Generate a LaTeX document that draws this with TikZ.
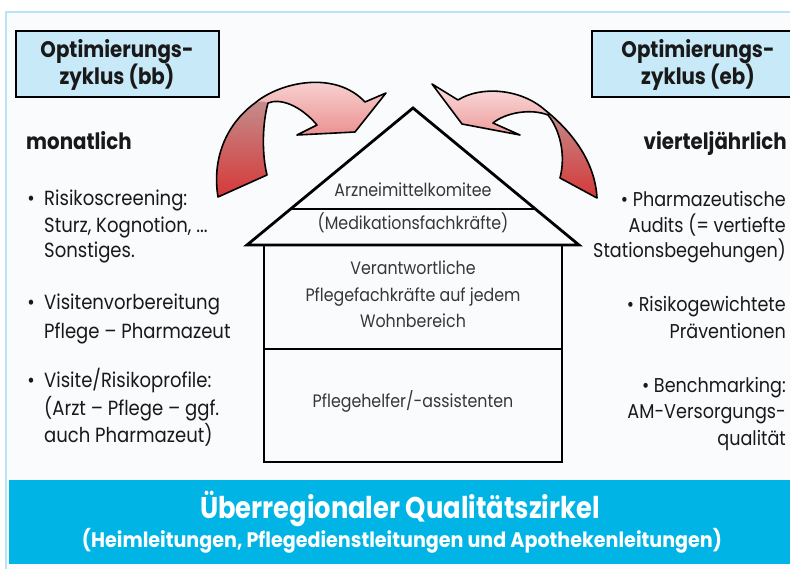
\documentclass[tikz,border=0pt]{standalone}
\usepackage{fontspec}
\setmainfont{Poppins}[FakeStretch=0.88]
\usepackage{graphicx}
\definecolor{framec}{RGB}{185,228,245}
\definecolor{bgc}{RGB}{250,251,252}
\definecolor{boxc}{RGB}{199,233,248}
\definecolor{bandc}{RGB}{0,180,230}
\definecolor{txt}{RGB}{25,25,25}
\definecolor{htxt}{RGB}{55,55,55}
\definecolor{pinkL}{RGB}{250,222,222}
\definecolor{redD}{RGB}{222,72,72}
\definecolor{roseT}{RGB}{196,140,140}
\definecolor{redT}{RGB}{214,56,56}
\tikzset{
  bul/.style={font=\fontsize{20.5}{20.5}\selectfont, text=txt, inner sep=0pt, anchor=base west},
  bulr/.style={font=\fontsize{20}{20}\selectfont, text=txt, inner sep=0pt, anchor=base east},
  htext/.style={font=\fontsize{18}{18}\selectfont, text=htxt, inner sep=0pt, anchor=base},
  head/.style={font=\bfseries\fontsize{22.5}{22.5}\selectfont, text=txt, inner sep=0pt, anchor=base},
  boxst/.style={draw=black, line width=2pt, fill=boxc},
  housel/.style={draw=black, line width=2.8pt},
  arrlight/.style={top color=pinkL, bottom color=redD},
  arrdark/.style={top color=roseT, bottom color=redT},
  arredge/.style={draw=black, line width=1.6pt, line join=round},
  bandt/.style={text=white, inner sep=0pt, anchor=base}
}
\begin{document}
\begin{tikzpicture}[x=1pt,y=-1pt]
\useasboundingbox (0,0) rectangle (790,569);
\begin{scope}
\clip (0,0) rectangle (790,569);
% frame and band
\draw[framec, line width=1.5pt, fill=bgc] (6,12) rectangle (830,620);
\fill[bandc] (9,480) rectangle (830,564);
% heading boxes
\draw[boxst] (16,31) rectangle (219,97);
\draw[boxst] (592,31) rectangle (830,97);
\end{scope}
\node[head] (h1) at (117,58) {Optimierungs-};
\node[head] (h2) at (117,85) {zyklus (bb)};
\node[head] (h3) at (698,58) {Optimierungs-};
\node[head] (h4) at (698,85) {zyklus (eb)};
\node[head, anchor=base west] (mon) at (26,150) {monatlich};
\node[head, anchor=base east] (vj) at (787,150) {vierteljährlich};
% house
\draw[housel, line join=miter] (247,245) -- (413,108) -- (579,245) -- cycle;
\draw[housel] (291,209) -- (535,209);
\draw[housel] (264,245) rectangle (562,462);
\draw[housel] (264,349) -- (562,349);
\node[htext] (am) at (413,197) {Arzneimittelkomitee};
\node[htext] (mf) at (413,230) {(Medikationsfachkräfte)};
\node[htext] (v1) at (413,275) {Verantwortliche};
\node[htext] (v2) at (413,302) {Pflegefachkräfte auf jedem};
\node[htext] (v3) at (413,327) {Wohnbereich};
\node[htext] (ph) at (413,407) {Pflegehelfer/-assistenten};
% left arrow
\def\leftarr{(255,103) .. controls (280,82) and (335,70) .. (365,102) -- (386,93) -- (355,132) -- (297,135) -- (317,125)
  .. controls (300,105) and (280,98) .. (268,103) .. controls (262,125) and (262,155) .. (267,175)
  -- (218,197) .. controls (212,160) and (225,125) .. (255,103) -- cycle}
\path[arrlight] \leftarr;
\path[arrdark] (255,103) .. controls (262,101) .. (268,103) .. controls (262,125) and (262,155) .. (267,175)
  -- (218,197) .. controls (212,160) and (225,125) .. (255,103) -- cycle;
\path[arredge] \leftarr;
% right arrow
\def\rightarr{(545,110) .. controls (520,88) and (480,86) .. (458,100) -- (432,84) -- (462,124) -- (520,135) -- (493,123)
  .. controls (505,113) and (530,108) .. (548,115) .. controls (560,130) and (566,155) .. (560,178)
  -- (597,198) .. controls (595,160) and (570,130) .. (545,110) -- cycle}
\path[arrlight] \rightarr;
\path[arrdark] (545,110) -- (548,115) .. controls (560,130) and (566,155) .. (560,178)
  -- (597,198) .. controls (595,160) and (570,130) .. (545,110) -- cycle;
\path[arredge] \rightarr;
% left column
\foreach \y/\t [count=\i] in {206/{Risikoscreening:}, 233/{Sturz, Kognotion, ...}, 258/{Sonstiges.},
  310/{Visitenvorbereitung}, 338/{Pflege – Pharmazeut}, 387/{Visite/Risikoprofile:},
  415/{(Arzt – Pflege – ggf.}, 442/{auch Pharmazeut)}}
  \node[bul] (L\i) at (44,\y) {\t};
\foreach \y [count=\i] in {206,310,387}
  \node[bul, anchor=base] (LB\i) at (31,\y) {•};
% right column
\foreach \y/\t [count=\i] in {207/{• Pharmazeutische}, 233/{Audits (= vertiefte}, 258/{Stationsbegehungen)},
  312/{• Risikogewichtete}, 338/{Präventionen},
  392/{• Benchmarking:}, 418/{AM-Versorgungs-}, 445/{qualität}}
  \node[bulr] (R\i) at (786,\y) {\t};
% band text
\node[bandt] (q1) at (400,518) {\resizebox{400pt}{\height}{\bfseries\fontsize{30}{30}\selectfont Überregionaler Qualitätszirkel}};
\node[bandt] (q2) at (402,547) {\resizebox{640pt}{\height}{\bfseries\fontsize{21}{21}\selectfont (Heimleitungen, Pflegedienstleitungen und Apothekenleitungen)}};
\end{tikzpicture}
\end{document}
